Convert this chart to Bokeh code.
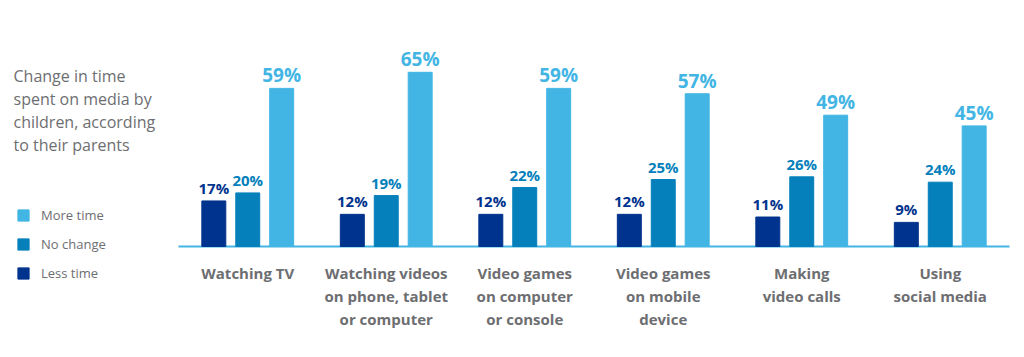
import numpy as np
from bokeh.plotting import figure
from bokeh.models import Range1d, Legend, LegendItem, Label, ColumnDataSource
from bokeh.core.properties import value
from bokeh.embed import file_html
from bokeh.resources import INLINE

categories = ["Watching TV", "Watching videos\non phone, tablet\nor computer",
              "Video games\non computer\nor console", "Video games\non mobile\ndevice",
              "Making\nvideo calls", "Using\nsocial media"]
less_time = [17, 12, 12, 12, 11, 9]
no_change = [20, 19, 22, 25, 26, 24]
more_time = [59, 65, 59, 57, 49, 45]
title_lines = ["Change in time", "spent on media by", "children, according", "to their parents"]

DARK = "#00338d"
MID = "#0580bb"
LIGHT = "#42b5e4"
GRAY = "#6d6e71"
FONT = "Open Sans"

W, H = 1024, 357
PX_X = 138.5
LEFT_PX = 178
BASE_PX = 246
PX_Y = 2.68

p = figure(width=W, height=H, output_backend="svg", toolbar_location=None,
           x_range=Range1d(-LEFT_PX / PX_X, (W - LEFT_PX) / PX_X),
           y_range=Range1d(-(H - BASE_PX) / PX_Y, BASE_PX / PX_Y),
           min_border=0)
p.axis.visible = False
p.grid.visible = False
p.outline_line_color = None
p.background_fill_color = "white"
p.border_fill_color = "white"

groups = np.arange(len(categories)) + 0.5

# baseline
p.segment(x0=[groups.min() - 0.5], x1=[groups.max() + 0.5], y0=[0], y1=[0],
          line_color=LIGHT, line_width=2)

series = [("Less time", less_time, DARK, -0.245, "15px"),
          ("No change", no_change, MID, 0.0, "15px"),
          ("More time", more_time, LIGHT, 0.245, "19px")]
renderers = {}
for name, vals, color, off, fs in series:
    src = ColumnDataSource(dict(x=groups + off, top=vals,
                                lab=[f"{v}%" for v in vals]))
    r = p.vbar(x="x", top="top", bottom=0, width=0.173, source=src,
               fill_color=color, line_color=color, line_width=1)
    renderers[name] = r
    p.text(x="x", y="top", text="lab", source=src, text_align="center",
           text_baseline="alphabetic", y_offset=-13, text_color=color,
           text_font=value(FONT), text_font_style="bold", text_font_size=fs)

# category labels, one row per line
lx, ly, lt, lo = [], [], [], []
for g, c in zip(groups, categories):
    for i, line in enumerate(c.split("\n")):
        lx.append(g)
        ly.append(0)
        lt.append(line)
        lo.append(26 + 23 * i)
csrc = ColumnDataSource(dict(x=lx, y=ly, t=lt, o=lo))
p.text(x="x", y="y", text="t", y_offset="o", source=csrc, text_align="center",
       text_baseline="alphabetic", text_color=GRAY, text_font=value(FONT),
       text_font_style="bold", text_font_size="15px")

# title
for i, line in enumerate(title_lines):
    p.add_layout(Label(x=13, y=H - 75 - 23 * i, x_units="screen", y_units="screen",
                       text=line, text_font=FONT, text_font_size="16px",
                       text_color=GRAY, text_baseline="alphabetic"))

legend = Legend(items=[LegendItem(label="More time", renderers=[renderers["More time"]]),
                       LegendItem(label="No change", renderers=[renderers["No change"]]),
                       LegendItem(label="Less time", renderers=[renderers["Less time"]])],
                location=(16, 75), orientation="vertical",
                glyph_width=14, glyph_height=14, label_height=14, spacing=11,
                padding=0, margin=0, border_line_color=None, background_fill_alpha=0,
                label_standoff=11, label_text_font=FONT, label_text_font_size="13px",
                label_text_color=GRAY)
p.add_layout(legend)

open("out.html", "w").write(file_html(p, INLINE))
